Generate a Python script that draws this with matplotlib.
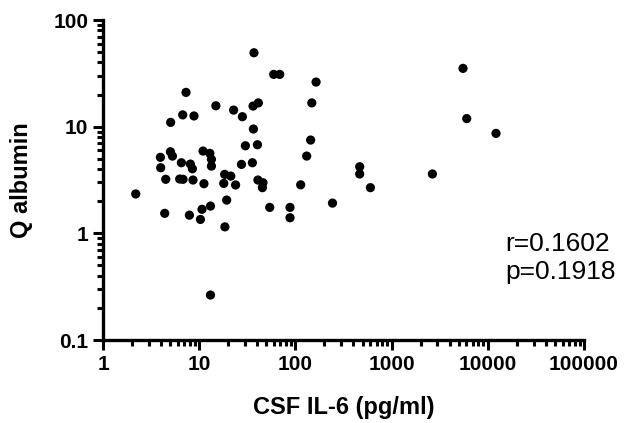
import matplotlib
matplotlib.use('Agg')
import matplotlib.pyplot as plt
from matplotlib.ticker import LogLocator, FixedLocator, FixedFormatter, NullFormatter

plt.rcParams['font.family'] = ['Liberation Sans', 'DejaVu Sans']

# CSF IL-6 (pg/ml) and Q albumin
il6 = [2.19, 3.95, 3.98, 4.38, 4.49, 5.02, 5.27, 5.05, 6.27, 6.79,
       6.53, 6.74, 7.29, 7.91, 8.10, 8.50, 8.62, 8.83, 10.3, 10.7,
       10.96, 11.2, 12.9, 13.4, 13.4, 13.1, 13.1, 14.9, 18.0, 18.4,
       18.5, 19.3, 21.3, 22.8, 23.9, 27.5, 28.1, 30.2, 35.7, 36.3,
       41.2, 36.6, 37.1, 40.3, 40.8, 45.4, 46.0, 54.1, 59.5, 68.7,
       87.9, 87.9, 113.5, 131, 144, 148, 164, 243, 466, 466,
       602, 2655, 5525, 6040, 12170]
qalb = [2.34, 5.16, 4.12, 1.54, 3.21, 5.82, 5.30, 10.97, 3.23, 3.21,
        4.59, 12.9, 20.96, 1.48, 4.46, 4.03, 3.16, 12.6, 1.35, 1.68,
        5.91, 2.92, 5.62, 4.94, 4.27, 1.80, 0.264, 15.7, 2.94, 3.57,
        1.15, 2.05, 3.44, 14.3, 2.84, 4.43, 12.4, 6.62, 4.59, 15.6,
        16.7, 9.50, 49.3, 6.77, 3.16, 2.68, 2.98, 1.75, 30.9, 30.9,
        1.75, 1.40, 2.85, 5.30, 7.49, 16.7, 26.2, 1.92, 4.21, 3.60,
        2.68, 3.60, 35.2, 11.9, 8.65]

x_ticks = [1, 10, 100, 1000, 10000, 100000]
x_labels = ['1', '10', '100', '1000', '10000', '100000']
y_ticks = [0.1, 1, 10, 100]
y_labels = ['0.1', '1', '10', '100']

fig = plt.figure(figsize=(6.35, 4.23), dpi=100)
ax = fig.add_axes([103 / 635, 1 - 340 / 423, 481 / 635, 320 / 423])

ax.scatter(il6, qalb, s=44, color='black', edgecolors='none', zorder=3)

ax.set_xscale('log')
ax.set_yscale('log')
ax.set_xlim(1, 100000)
ax.set_ylim(0.1, 100)

ax.xaxis.set_major_locator(FixedLocator(x_ticks))
ax.xaxis.set_major_formatter(FixedFormatter(x_labels))
ax.yaxis.set_major_locator(FixedLocator(y_ticks))
ax.yaxis.set_major_formatter(FixedFormatter(y_labels))
ax.xaxis.set_minor_locator(LogLocator(base=10, subs=range(2, 10), numticks=20))
ax.yaxis.set_minor_locator(LogLocator(base=10, subs=range(2, 10), numticks=20))
ax.xaxis.set_minor_formatter(NullFormatter())
ax.yaxis.set_minor_formatter(NullFormatter())

for s in ['top', 'right']:
    ax.spines[s].set_visible(False)
for s in ['left', 'bottom']:
    ax.spines[s].set_linewidth(2.4)

ax.tick_params(which='major', length=7.5, width=2.2, pad=3)
ax.tick_params(which='minor', length=4.5, width=2.2)
for lab in ax.get_xticklabels() + ax.get_yticklabels():
    lab.set_fontsize(15)
    lab.set_fontweight('bold')

ax.set_xlabel('CSF IL-6 (pg/ml)', fontsize=17, fontweight='bold')
ax.set_ylabel('Q albumin', fontsize=17, fontweight='bold')
ax.xaxis.set_label_coords(0.5, -0.175)
ax.yaxis.set_label_coords(-0.145, 0.5)

ax.text(505 / 635, 1 - 251 / 423, 'r=0.1602', transform=fig.transFigure,
        fontsize=19, ha='left', va='baseline')
ax.text(505 / 635, 1 - 279 / 423, 'p=0.1918', transform=fig.transFigure,
        fontsize=19, ha='left', va='baseline')

fig.savefig('out.png', dpi=100)
